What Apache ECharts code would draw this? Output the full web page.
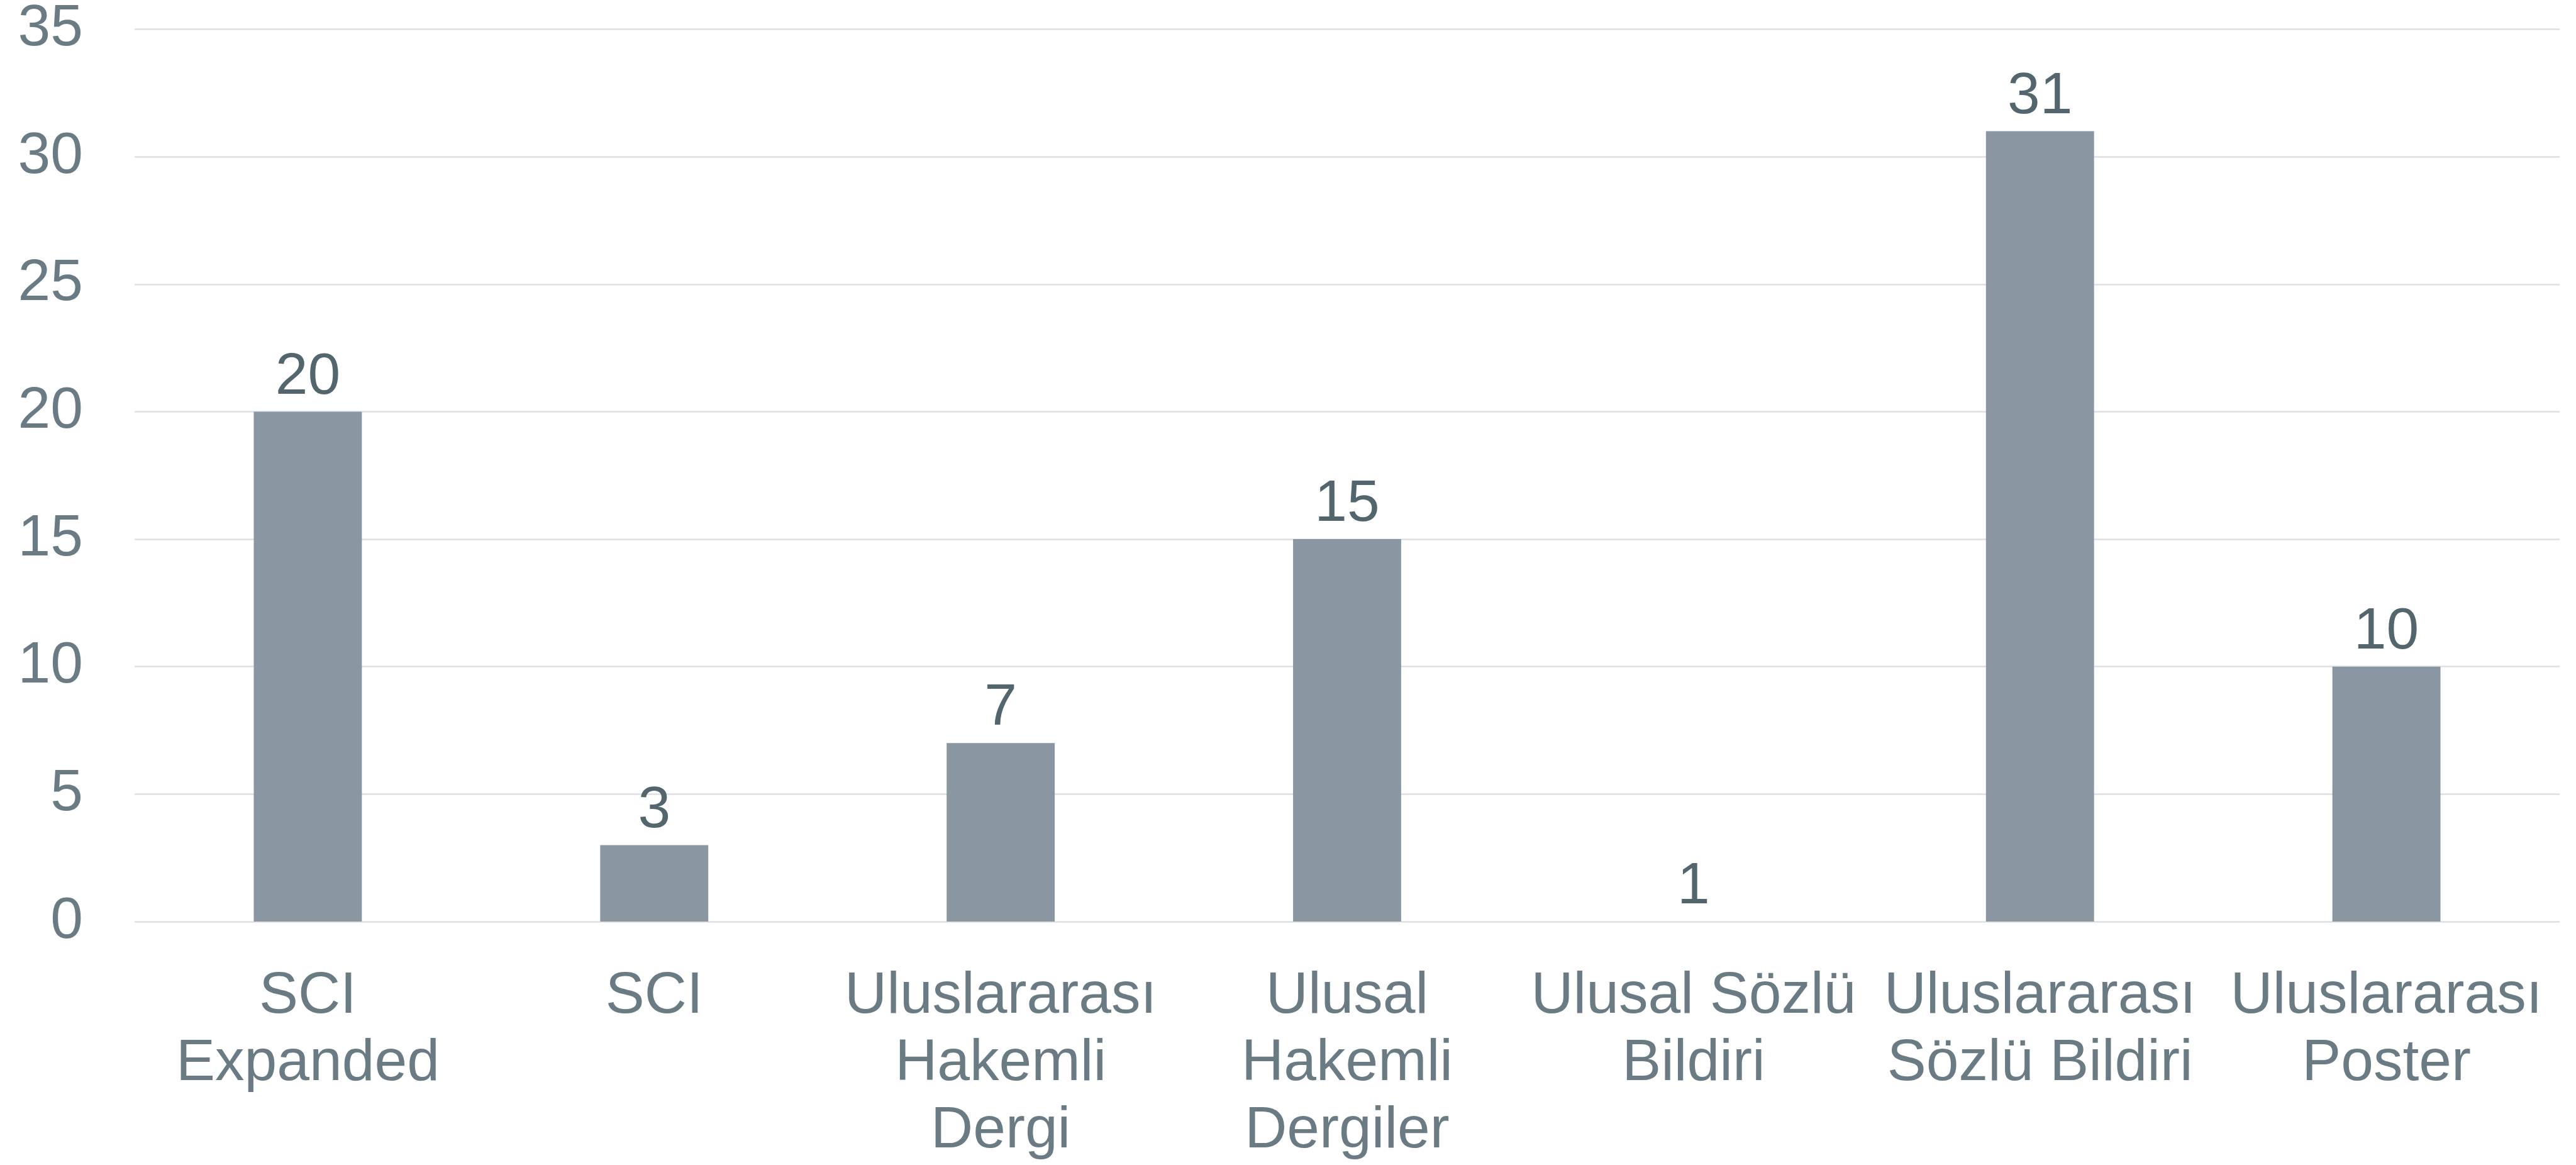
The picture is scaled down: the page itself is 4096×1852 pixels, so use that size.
<!DOCTYPE html>
<html>
<head>
<meta charset="utf-8">
<script src="https://cdn.jsdelivr.net/npm/echarts@6/dist/echarts.min.js"></script>
<style>
  html, body { margin: 0; padding: 0; background: #ffffff; }
  #chart { width: 4096px; height: 1852px; }
</style>
</head>
<body>
<div id="chart"></div>
<script>
// Categories (x axis labels, with line breaks as in the reference)
const categories = [
  'SCI\nExpanded',
  'SCI',
  'Uluslararası\nHakemli\nDergi',
  'Ulusal\nHakemli\nDergiler',
  'Ulusal Sözlü\nBildiri',
  'Uluslararası\nSözlü Bildiri',
  'Uluslararası\nPoster'
];
// Printed value labels above each bar
const counts = [20, 3, 7, 15, 1, 31, 10];
// Bar heights as drawn in the picture (the "1" category shows no visible bar)
const barValues = [20, 3, 7, 15, 0, 31, 10];
// Y axis ticks
const yMin = 0, yMax = 35, yStep = 5;

const FONT = '"Liberation Sans", Arial, sans-serif';
const chart = echarts.init(document.getElementById('chart'), null, { renderer: 'canvas' });
chart.setOption({
  animation: false,
  backgroundColor: '#ffffff',
  grid: { left: 214, right: 26, top: 45.6, bottom: 379, containLabel: false },
  xAxis: {
    type: 'category',
    data: categories,
    axisLine: { show: false },
    axisTick: { show: false },
    splitLine: { show: false },
    axisLabel: {
      interval: 0,
      margin: 66,
      color: '#6a7b84',
      fontFamily: FONT,
      fontSize: 93,
      lineHeight: 107,
      align: 'center'
    }
  },
  yAxis: {
    type: 'value',
    min: yMin, max: yMax, interval: yStep,
    axisLine: { show: false },
    axisTick: { show: false },
    splitLine: { show: true, lineStyle: { color: '#dde1e4', width: 2.5 } },
    axisLabel: {
      margin: 82,
      color: '#6a7b84',
      fontFamily: FONT,
      fontSize: 93
    }
  },
  series: [{
    type: 'bar',
    data: barValues,
    barCategoryGap: '68.8%',
    itemStyle: { color: '#8a96a1' },
    label: {
      show: true,
      position: 'top',
      distance: 8,
      color: '#53666e',
      fontFamily: FONT,
      fontSize: 93,
      formatter: p => String(counts[p.dataIndex])
    }
  }]
});
</script>
</body>
</html>
